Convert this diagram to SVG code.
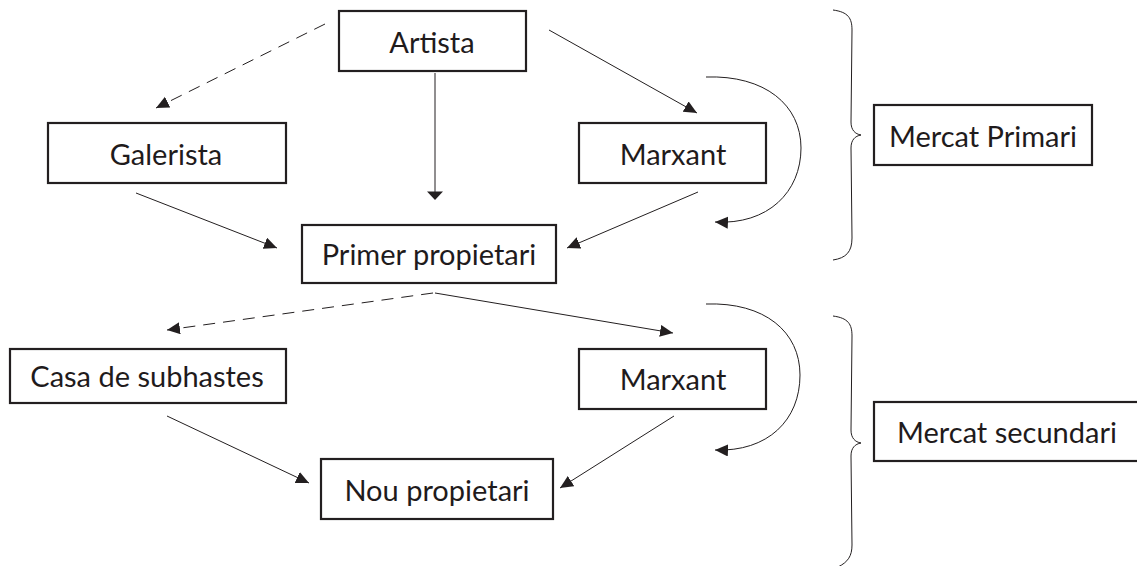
<svg xmlns="http://www.w3.org/2000/svg" width="1137" height="566" viewBox="0 0 1137 566">
<defs>
<style>
.box{fill:#fff;stroke:#231f20;stroke-width:2.2}
.lbl{font-family:Lato,"Open Sans","Liberation Sans",sans-serif;font-size:29px;fill:#1f1b1c;text-anchor:middle}
.ln{fill:none;stroke:#231f20;stroke-width:1}
.dash{stroke-dasharray:12 8}
.brace{fill:none;stroke:#231f20;stroke-width:1}
</style>
<marker id="ah" markerUnits="userSpaceOnUse" markerWidth="15" markerHeight="13" refX="13" refY="6" orient="auto">
<path d="M0,0 L13,6 L0,12 z" fill="#231f20"/>
</marker>
</defs>
<rect width="1137" height="566" fill="#fff"/>
<g id="connectors">
<line class="ln dash" x1="325" y1="24" x2="156" y2="108" marker-end="url(#ah)"/>
<line class="ln" x1="435" y1="73" x2="435" y2="192"/>
<path d="M427,191.5 L443,191.5 L435,200 z" fill="#231f20"/>
<line class="ln" x1="549" y1="30" x2="697" y2="113" marker-end="url(#ah)"/>
<line class="ln" x1="136" y1="193" x2="277" y2="248" marker-end="url(#ah)"/>
<line class="ln" x1="698" y1="192" x2="567" y2="248" marker-end="url(#ah)"/>
<path class="ln" d="M706,77 C765,75 801,105 801,148 C801,192 768,225 715,222" marker-end="url(#ah)"/>
<line class="ln dash" x1="433" y1="293" x2="167" y2="330" marker-end="url(#ah)"/>
<line class="ln" x1="435" y1="293" x2="673" y2="333" marker-end="url(#ah)"/>
<line class="ln" x1="167" y1="416" x2="309" y2="483" marker-end="url(#ah)"/>
<line class="ln" x1="674" y1="416" x2="560" y2="488" marker-end="url(#ah)"/>
<path class="ln" d="M706,304 C765,302 800,332 800,375 C800,420 768,452 715,450" marker-end="url(#ah)"/>
</g>
<g id="brace-primari">
<path class="brace" d="M833,10 C848,12 852,18 852,30 L851,122 C851,130 855,134 861,135 C855,136 851,140 851,148 L852,238 C852,252 846,258 833,260"/>
</g>
<g id="brace-secundari">
<path class="brace" d="M833,316 C848,318 852,324 852,336 L851,430 C851,438 855,442 861,443 C855,444 851,448 851,456 L852,545 C852,556 848,562 838,567"/>
</g>
<g id="artista"><rect class="box" x="339" y="11" width="187" height="60"/><text class="lbl" x="432" y="53">Artista</text></g>
<g id="galerista"><rect class="box" x="48" y="123" width="238" height="60"/><text class="lbl" x="166" y="165">Galerista</text></g>
<g id="marxant1"><rect class="box" x="579" y="123" width="187" height="60"/><text class="lbl" x="673" y="165">Marxant</text></g>
<g id="primer-propietari"><rect class="box" x="302" y="225" width="254" height="58"/><text class="lbl" x="429" y="265">Primer propietari</text></g>
<g id="mercat-primari"><rect class="box" x="874" y="105" width="218" height="60"/><text class="lbl" x="983" y="147">Mercat Primari</text></g>
<g id="casa-subhastes"><rect class="box" x="10" y="349" width="276" height="54"/><text class="lbl" x="147" y="387">Casa de subhastes</text></g>
<g id="marxant2"><rect class="box" x="579" y="349" width="187" height="60"/><text class="lbl" x="673" y="390">Marxant</text></g>
<g id="nou-propietari"><rect class="box" x="321" y="459" width="232" height="60"/><text class="lbl" x="437" y="501">Nou propietari</text></g>
<g id="mercat-secundari"><rect class="box" x="874" y="402" width="280" height="59"/><text class="lbl" x="1007" y="443">Mercat secundari</text></g>
</svg>
